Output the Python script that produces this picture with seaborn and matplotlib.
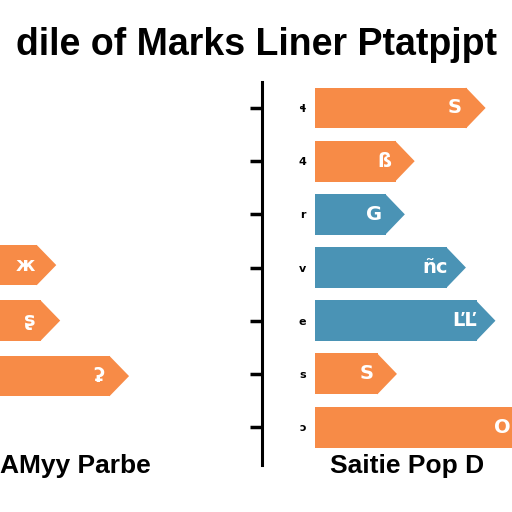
import numpy as np
import pandas as pd
import seaborn as sns
import matplotlib.pyplot as plt
from matplotlib.patches import Polygon

# chart texts (the reference text is garbled, kept as seen)
title = "dile of Marks Liner Ptatpjpt"
left_caption = "AMyy Parbe"
right_caption = "Saitie Pop D"

# left panel
left_cats = ["a", "b", "c"]
left_vals = [49, 51, 86]
left_group = ["A", "A", "A"]
left_marks = ["ж", "ʂ", "ʡ"]

# right panel
right_cats = ["ɬ", "4", "r", "v", "e", "s", "ɔ"]
right_vals = [77, 41, 36, 67, 82, 32, 110]
right_group = ["A", "A", "B", "B", "B", "A", "A"]
right_marks = ["S", "ß", "G", "ñc", "ĽĽ", "S", "O"]

colors = {"A": "#F78B47", "B": "#4A93B5"}
tip = 10  # arrow head length, in value units

sns.set_style("white")
plt.rcParams['font.family'] = ['Liberation Sans', 'DejaVu Sans']

fig = plt.figure(figsize=(5.12, 5.12), dpi=100)
axL = fig.add_axes([0, 0.092, 240 / 512, 0.748])
axR = fig.add_axes([315 / 512, 0.092, 197 / 512, 0.748])


def arrow_bars(ax, cats, vals, group, marks, width, xmax):
    df = pd.DataFrame({"cat": cats, "val": vals, "grp": group})
    sns.barplot(data=df, x="val", y="cat", hue="grp", palette=colors,
                dodge=False, orient="h", width=width, legend=False,
                saturation=1, ax=ax)
    # add a triangle head at the end of each bar
    for p in ax.patches:
        x0, y0 = p.get_x(), p.get_y()
        w, h = p.get_width(), p.get_height()
        if w == 0 or np.isnan(w):
            continue
        p.set_edgecolor("none")
        end = x0 + w - 0.4
        head = Polygon([[end, y0], [end + tip, y0 + h / 2], [end, y0 + h]],
                       closed=True, facecolor=p.get_facecolor(),
                       edgecolor="none")
        ax.add_patch(head)
    for i, (v, m) in enumerate(zip(vals, marks)):
        ax.text(min(v - 6, xmax - 5), i, m, color="white", ha="center",
                va="center", fontsize=14, fontweight="bold",
                family=["DejaVu Sans"])


arrow_bars(axL, left_cats, left_vals, left_group, left_marks, 0.73, 152)
axL.set_xlim(30, 152)
axL.set_ylim(3.6, -3.3)
axL.set_axis_off()

arrow_bars(axR, right_cats, right_vals, right_group, right_marks, 0.77, 100)
axR.set_xlim(0, 100)
axR.set_ylim(6.71, -0.49)
for s in ["top", "right", "bottom"]:
    axR.spines[s].set_visible(False)
axR.spines["left"].set_position(("outward", 38))
axR.spines["left"].set_linewidth(2.2)
axR.spines["left"].set_color("black")
axR.set_xticks([])
axR.set_xlabel("")
axR.set_ylabel("")
axR.tick_params(axis="y", left=True, direction="out", length=8.5,
                width=2.5, color="black", pad=-40, labelsize=8,
                labelcolor="black")
for lab in axR.get_yticklabels():
    lab.set_fontweight("bold")
    lab.set_family(["DejaVu Sans"])

fig.text(0.5, 1 - 45 / 512, title, ha="center", va="center",
         fontsize=27, fontweight="bold", color="black")
fig.text(0.0, 1 - 466 / 512, left_caption, ha="left", va="center",
         fontsize=19, fontweight="bold", color="black")
fig.text(330 / 512, 1 - 466 / 512, right_caption, ha="left", va="center",
         fontsize=19, fontweight="bold", color="black")

fig.savefig("out.png", dpi=100, facecolor="white")
